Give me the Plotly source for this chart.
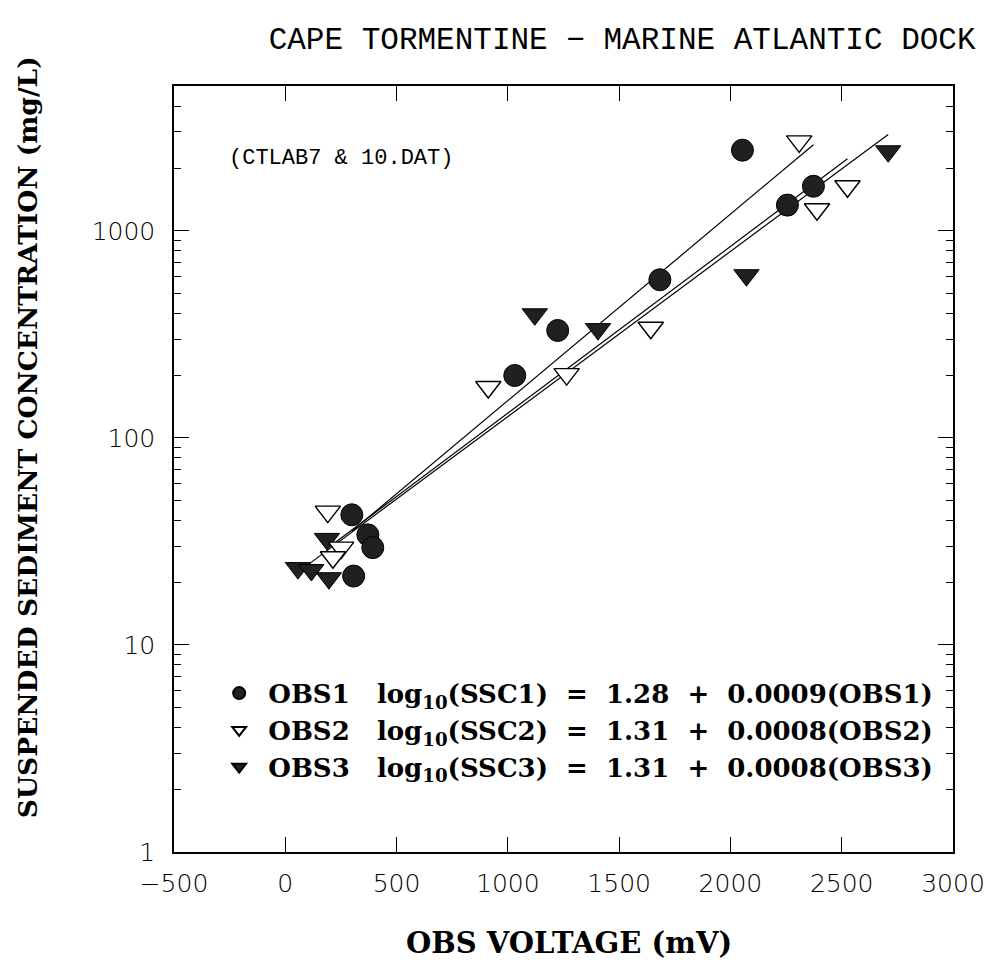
import plotly.graph_objects as go

# ---- data ----
obs1_x = [299, 371, 393, 307, 1031, 1224, 1683, 2054, 2256, 2373]
obs1_y = [42.5, 34, 29.5, 21.5, 200, 330, 580, 2450, 1330, 1640]

obs2_x = [191, 251, 214, 912, 1264, 1642, 2309, 2389, 2526]
obs2_y = [44, 29.5, 26.5, 176, 203, 340, 2700, 1270, 1640]

obs3_x = [187, 57, 117, 196, 1121, 1405, 2072, 2709]
obs3_y = [32.5, 23.5, 23, 21, 395, 335, 610, 2420]

series_names = ["OBS1", "OBS2", "OBS3"]
# fitted coefficients (legend shows them rounded)
intercepts = [1.28, 1.314, 1.306]
slopes = [0.0009, 0.000805, 0.000797]

x_ticks = [-500, 0, 500, 1000, 1500, 2000, 2500, 3000]
y_ticks = [1, 10, 100, 1000]
y_ticktext = ["1", "10", "100", "1000"]

title_text = "CAPE TORMENTINE \u2212 MARINE ATLANTIC DOCK"
note_text = "(CTLAB7 &amp; 10.DAT)"
x_title = "OBS VOLTAGE (mV)"
y_title = "SUSPENDED SEDIMENT CONCENTRATION (mg/L)"

# ---- figure ----
fig = go.Figure()

xs = [obs1_x, obs2_x, obs3_x]
ys = [obs1_y, obs2_y, obs3_y]

# regression lines spanning each series' x range
for i in range(3):
    x0, x1 = min(xs[i]), max(xs[i])
    lx = [x0, x1]
    ly = [10 ** (intercepts[i] + slopes[i] * v) for v in lx]
    fig.add_trace(go.Scatter(x=lx, y=ly, mode="lines",
                             line=dict(color="black", width=1.2),
                             showlegend=False, hoverinfo="skip"))

NB = "\u00a0"

def label(i):
    n = series_names[i]
    return (f"{NB}{n}{NB*3}log<sub>10</sub>(SSC{i+1}){NB*2}={NB*2}{intercepts[i]:.2f}"
            f"{NB*2}+{NB*2}{slopes[i]:.4f}({n})")

marker_styles = {
    0: dict(symbol="circle", size=22, color="#202020", line=dict(color="black", width=1)),
    1: dict(symbol="triangle-down", size=22, color="white", line=dict(color="black", width=1.4)),
    2: dict(symbol="triangle-down", size=22, color="#202020", line=dict(color="black", width=1)),
}

draw_order = [0, 2, 1]
for i in draw_order:
    fig.add_trace(go.Scatter(x=xs[i], y=ys[i], mode="markers", name=label(i),
                             marker=marker_styles[i], legendgroup=f"g{i}", legendrank=i + 1))

tick_family = "DejaVu Sans ExtraLight, DejaVu Sans Light, DejaVu Sans"

fig.update_layout(
    width=997, height=963,
    paper_bgcolor="white", plot_bgcolor="white",
    margin=dict(l=174, r=42, t=86, b=111),
    font=dict(family="DejaVu Serif", color="black"),
    showlegend=True,
    legend=dict(x=0.058, y=0.238, xanchor="left", yanchor="top",
                bgcolor="rgba(0,0,0,0)",
                font=dict(family="DejaVu Serif", size=26, color="black", weight="bold"),
                tracegroupgap=0, itemsizing="constant"),
    title=dict(text=title_text, x=0.624, xanchor="center", y=0.96, yanchor="middle",
               font=dict(family="Liberation Mono", size=31, color="black")),
)

fig.update_xaxes(
    range=[-500, 3000], tickvals=x_ticks,
    ticks="inside", ticklen=15, tickwidth=1.3, tickcolor="black",
    showline=True, linecolor="black", linewidth=1.5, mirror="ticks",
    showgrid=False, zeroline=False, ticklabelstandoff=8,
    tickfont=dict(family=tick_family, size=25, color="black"),
)
minor_vals = [m * 10 ** d for d in range(0, 4) for m in range(2, 10)]
fig.update_yaxes(
    type="log", range=[0, 3.699],
    tickvals=y_ticks, ticktext=y_ticktext,
    ticks="inside", ticklen=15, tickwidth=1.3, tickcolor="black",
    minor=dict(tickvals=minor_vals, ticks="inside", ticklen=7, tickcolor="black", tickwidth=1),
    showline=True, linecolor="black", linewidth=1.5, mirror="ticks",
    showgrid=False, zeroline=False, ticklabelstandoff=12,
    tickfont=dict(family=tick_family, size=25, color="black"),
)

fig.add_annotation(text=f"<b>{x_title}</b>", xref="paper", yref="paper",
                   x=0.507, y=-0.119, xanchor="center", yanchor="middle", showarrow=False,
                   font=dict(family="DejaVu Serif", size=29, color="black"))
fig.add_annotation(text=f"<b>{y_title}</b>", xref="paper", yref="paper",
                   x=-0.187, y=0.542, xanchor="center", yanchor="middle", showarrow=False,
                   textangle=-90,
                   font=dict(family="DejaVu Serif", size=26.5, color="black"))
fig.add_annotation(text=note_text, xref="paper", yref="paper",
                   x=0.068, y=0.906, xanchor="left", yanchor="middle", showarrow=False,
                   font=dict(family="Liberation Mono", size=22, color="black"))

fig.write_html("out.html")
